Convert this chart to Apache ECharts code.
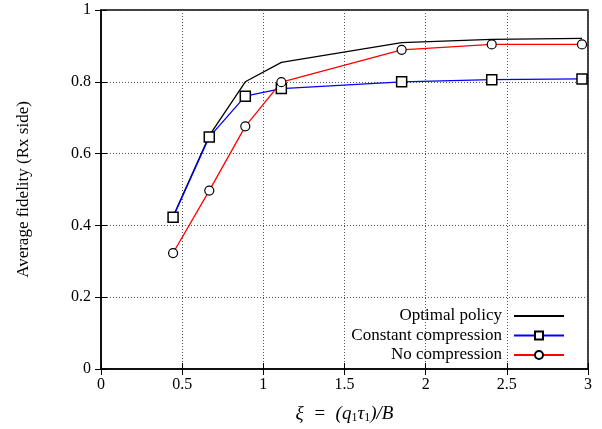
<!DOCTYPE html>
<html>
<head>
<meta charset="utf-8">
<script src="https://cdn.jsdelivr.net/npm/echarts@6/dist/echarts.min.js"></script>
<style>
  html, body { margin: 0; padding: 0; background: #fff; }
  #chart { width: 602px; height: 429px; }
</style>
</head>
<body>
<div id="chart"></div>
<script>
// xi values and average fidelity for each policy
const xi = [0.444, 0.667, 0.889, 1.111, 1.852, 2.407, 2.963];
const optimalPolicy = [0.425, 0.65, 0.80, 0.854, 0.909, 0.918, 0.921];
const constantCompression = [0.423, 0.646, 0.760, 0.781, 0.800, 0.806, 0.808];
const noCompression = [0.323, 0.497, 0.676, 0.799, 0.889, 0.904, 0.904];

const font = 'Liberation Serif';

function pairs(ys) {
    return xi.map(function (x, i) { return [x, ys[i]]; });
}

const chart = echarts.init(document.getElementById('chart'), null, {renderer: 'canvas'});

const gridLine = {show: true, lineStyle: {color: '#555', type: [1, 2], width: 1}};

chart.setOption({
    animation: false,
    grid: {left: 101, right: 14, top: 10, bottom: 60,
        show: true, borderColor: '#000', borderWidth: 1.5},
    legend: {
        orient: 'vertical',
        align: 'right',
        right: 32,
        top: 302,
        itemWidth: 50,
        itemHeight: 10,
        itemGap: 1.5,
        textStyle: {fontFamily: font, fontSize: 17, lineHeight: 18, color: '#000', padding: [0, 7, 0, 0]},
        data: [
            {name: 'Optimal policy', itemStyle: {opacity: 0}},
            'Constant compression',
            'No compression'
        ]
    },
    xAxis: [{
        type: 'value', min: 0, max: 3, interval: 0.5,
        name: 'ξ  =  (q{sub|1}τ{sub|1})/B',
        nameLocation: 'middle', nameGap: 34,
        nameTextStyle: {
            fontFamily: font, fontSize: 19, fontStyle: 'italic', color: '#000',
            rich: {sub: {fontFamily: font, fontSize: 12, fontStyle: 'normal', verticalAlign: 'bottom', padding: [9, 0, 0, 0]}}
        },
        axisLine: {lineStyle: {color: '#000', width: 1.5}},
        axisTick: {inside: true, length: 6, lineStyle: {color: '#000'}},
        axisLabel: {fontFamily: font, fontSize: 16, color: '#000', margin: 8},
        splitLine: gridLine
    }, {
        type: 'value', min: 0, max: 3, interval: 0.5, position: 'top',
        axisLine: {show: false},
        axisTick: {inside: true, length: 6, lineStyle: {color: '#000'}},
        axisLabel: {show: false},
        splitLine: {show: false}
    }],
    yAxis: [{
        type: 'value', min: 0, max: 1, interval: 0.2,
        name: 'Average fidelity (Rx side)',
        nameLocation: 'middle', nameGap: 69,
        nameTextStyle: {fontFamily: font, fontSize: 17, color: '#000'},
        axisLine: {lineStyle: {color: '#000', width: 1.5}},
        axisTick: {inside: true, length: 6, lineStyle: {color: '#000'}},
        axisLabel: {fontFamily: font, fontSize: 16, color: '#000', margin: 10},
        splitLine: gridLine
    }, {
        type: 'value', min: 0, max: 1, interval: 0.2, position: 'right',
        axisLine: {show: false},
        axisTick: {inside: true, length: 6, lineStyle: {color: '#000'}},
        axisLabel: {show: false},
        splitLine: {show: false}
    }],
    series: [{
        name: 'Optimal policy',
        type: 'line',
        data: pairs(optimalPolicy),
        symbol: 'none',
        lineStyle: {color: '#000', width: 1.3},
        itemStyle: {color: '#000'}
    }, {
        name: 'Constant compression',
        type: 'line',
        data: pairs(constantCompression),
        symbol: 'rect',
        symbolSize: 10,
        lineStyle: {color: '#0000ff', width: 1.3},
        itemStyle: {color: '#fff', borderColor: '#000', borderWidth: 1.5}
    }, {
        name: 'No compression',
        type: 'line',
        data: pairs(noCompression),
        symbol: 'circle',
        symbolSize: 9,
        lineStyle: {color: '#ff0000', width: 1.3},
        itemStyle: {color: '#fff', borderColor: '#000', borderWidth: 1.2}
    }]
});
</script>
</body>
</html>
